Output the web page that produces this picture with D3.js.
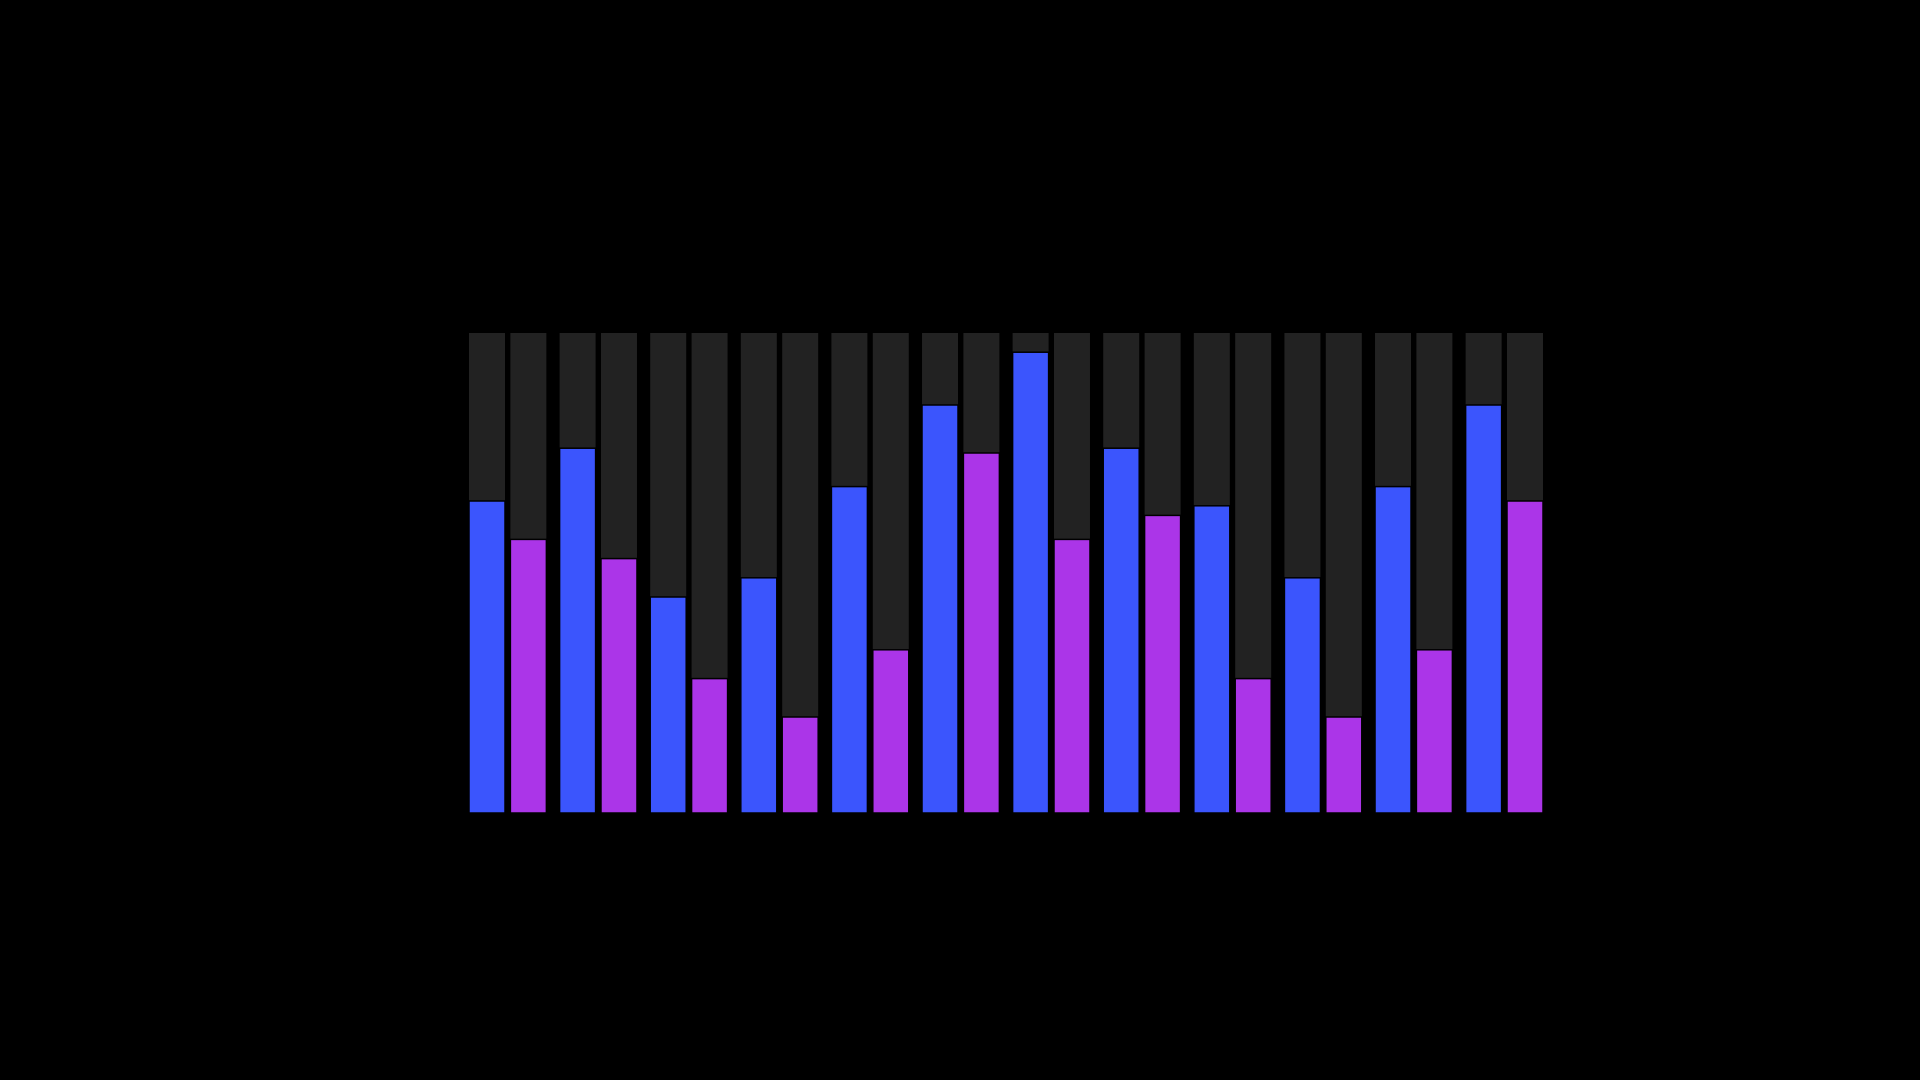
<!DOCTYPE html>
<meta charset="utf-8">

<!-- Load d3.js -->
<script src="https://d3js.org/d3.v7.min.js"></script>

<style>
    html, body {
        margin: 0;
        padding: 0;
        background: #000000;
    }
</style>

<div id="my_dataviz"></div>

<script>

    // data (percent of the track)
    var groups = ["G1", "G2", "G3", "G4", "G5", "G6", "G7", "G8", "G9", "G10", "G11", "G12"]
    var subgroups = ["first", "second"]
    var firstValues = [65, 76, 45, 49, 68, 85, 96, 76, 64, 49, 68, 85]
    var secondValues = [57, 53, 28, 20, 34, 75, 57, 62, 28, 20, 34, 65]
    var maxValue = 100

    // build rows from the arrays
    var data = groups.map(function (g, i) {
        return { group: g, first: firstValues[i], second: secondValues[i] }
    })

    // set the dimensions and margins of the graph
    var margin = { top: 333, right: 377, bottom: 267, left: 469 },
        width = 1920 - margin.left - margin.right,
        height = 1080 - margin.top - margin.bottom;

    var svg = d3.select("#my_dataviz")
        .append("svg")
        .attr("width", 1920)
        .attr("height", 1080)
        .style("display", "block")
        .append("g")
        .attr("transform", "translate(" + margin.left + "," + margin.top + ")");

    // X axis scales
    var x = d3.scaleBand()
        .domain(groups)
        .range([0, width])
        .paddingInner(0.146)
        .paddingOuter(0)

    var xSub = d3.scaleBand()
        .domain(subgroups)
        .range([0, x.bandwidth()])
        .paddingInner(0.13)
        .paddingOuter(0)

    // Y scale
    var y = d3.scaleLinear()
        .domain([0, maxValue])
        .range([height, 0]);

    // colours
    var color = d3.scaleOrdinal()
        .domain(subgroups)
        .range(["#3b55fd", "#ab35e8"])

    var groupG = svg.append("g")
        .selectAll("g")
        .data(data)
        .join("g")
        .attr("transform", function (d) { return "translate(" + x(d.group) + ",0)" })

    // grey tracks
    groupG.selectAll("rect.track")
        .data(function (d) { return subgroups.map(function (k) { return { key: k, value: d[k] } }) })
        .join("rect")
        .attr("class", "track")
        .attr("x", function (d) { return xSub(d.key) })
        .attr("y", y(maxValue))
        .attr("width", xSub.bandwidth())
        .attr("height", y(0) - y(maxValue))
        .attr("fill", "#222222")

    // value bars
    groupG.selectAll("rect.bar")
        .data(function (d) { return subgroups.map(function (k) { return { key: k, value: d[k] } }) })
        .join("rect")
        .attr("class", "bar")
        .attr("x", function (d) { return xSub(d.key) })
        .attr("y", function (d) { return y(d.value) })
        .attr("width", xSub.bandwidth())
        .attr("height", function (d) { return y(0) - y(d.value) })
        .attr("fill", function (d) { return color(d.key) })
        .attr("stroke", "#000000")
        .attr("stroke-width", 1.5)

</script>
